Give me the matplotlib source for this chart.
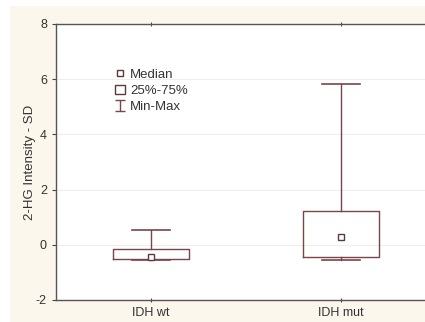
import matplotlib
matplotlib.use("Agg")
import matplotlib.pyplot as plt
from matplotlib.lines import Line2D
from matplotlib.patches import Rectangle
from matplotlib.container import ErrorbarContainer
from matplotlib.legend_handler import HandlerErrorbar
from matplotlib.collections import LineCollection

plt.rcParams['font.family'] = ['Liberation Sans', 'DejaVu Sans']
plt.rcParams['axes.unicode_minus'] = False

categories = ["IDH wt", "IDH mut"]
medians = [-0.44, 0.27]
q1 = [-0.50, -0.43]
q3 = [-0.15, 1.24]
mins = [-0.54, -0.55]
maxs = [0.55, 5.81]
yticks = [-2, 0, 2, 4, 6, 8]

edge = "#7a4448"
cream = "#fcf7ec"

fig = plt.figure(figsize=(4.25, 3.22), dpi=100, facecolor=cream)
# white scan margins
fig.patches.append(Rectangle((0, 0), 10/425, 1, transform=fig.transFigure,
                             facecolor="white", edgecolor="none", zorder=-1))
fig.patches.append(Rectangle((0, 1 - 6/322), 1, 6/322, transform=fig.transFigure,
                             facecolor="white", edgecolor="none", zorder=-1))

ax = fig.add_axes([56/425, 22/322, 380/425, 276/322])
ax.set_facecolor("white")

positions = list(range(1, len(categories) + 1))
stats = []
for i, c in enumerate(categories):
    stats.append(dict(label=c, med=medians[i], q1=q1[i], q3=q3[i],
                      whislo=mins[i], whishi=maxs[i], fliers=[]))
ax.bxp(stats, positions=positions, widths=0.4, showfliers=False,
       boxprops=dict(color=edge, linewidth=1.0),
       whiskerprops=dict(color=edge, linewidth=1.0),
       capprops=dict(color=edge, linewidth=1.2),
       medianprops=dict(visible=False),
       capwidths=0.2, zorder=3)
ax.plot(positions, medians, linestyle="none", marker="s", markersize=4.5,
        markerfacecolor="white", markeredgecolor="#5a3a3a", markeredgewidth=1.0, zorder=4)

ax.set_xlim(0.5, 2.5)
ax.set_ylim(-2, 8)
ax.set_yticks(yticks)
ax.set_xticks(positions)
ax.set_xticklabels(categories)
ax.grid(axis="y", color="#eeeeee", linewidth=0.8, zorder=0)
ax.set_axisbelow(True)
for s in ["left", "bottom", "top"]:
    ax.spines[s].set_color("#555555")
    ax.spines[s].set_linewidth(1.0)
ax.spines["right"].set_visible(False)
ax.tick_params(axis="both", labelsize=9, colors="#444444", length=3, width=0.8,
               labelcolor="#333333")
ax.tick_params(axis="x", top=True, direction="inout")
ax.set_ylabel("2-HG Intensity - SD", fontsize=9.5, color="#333333", labelpad=0)

h_med = Line2D([], [], linestyle="none", marker="s", markersize=4,
               markerfacecolor="white", markeredgecolor="#5a3a3a")
h_box = Rectangle((0, 0), 1, 1, facecolor="white", edgecolor="#5a3a3a", linewidth=1.0)
dummy_line = Line2D([], [], linestyle="none")
dummy_cap = Line2D([], [], linestyle="none", marker="_", markersize=7,
                   markeredgecolor=edge, color=edge)
dummy_bar = LineCollection([], colors=edge, linewidths=1.0)
h_mm = ErrorbarContainer((dummy_line, (dummy_cap,), (dummy_bar,)),
                         has_xerr=False, has_yerr=True)
leg = ax.legend([h_med, h_box, h_mm], ["Median", "25%-75%", "Min-Max"],
                loc="upper left", bbox_to_anchor=(0.132, 0.872), frameon=False,
                fontsize=9.5, handlelength=0.7, handletextpad=0.4,
                labelspacing=0.3, borderpad=0.2,
                handler_map={ErrorbarContainer: HandlerErrorbar(xerr_size=0.5, yerr_size=0.4)})
for t in leg.get_texts():
    t.set_color("#333333")

fig.savefig("out.png", dpi=100, facecolor=cream)
